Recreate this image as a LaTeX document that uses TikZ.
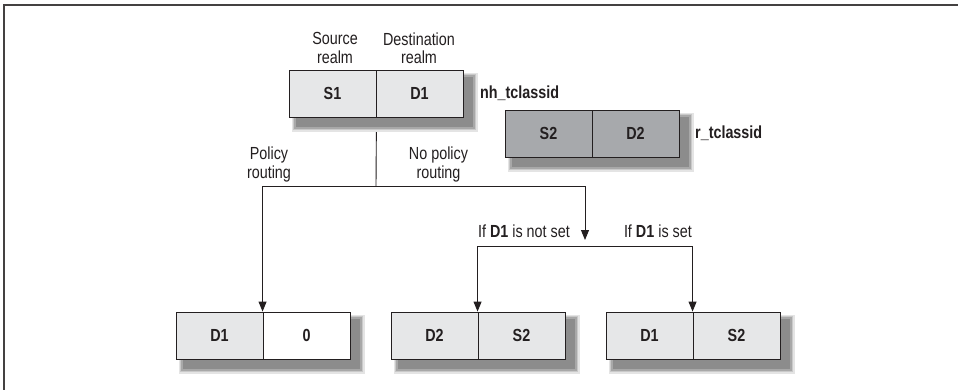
\documentclass[tikz,border=0pt]{standalone}
\usepackage{fontspec}
\setmainfont{Liberation Sans}[FakeStretch=0.82]
\usetikzlibrary{calc,arrows.meta}
\definecolor{ink}{HTML}{231F20}
\definecolor{lightcell}{HTML}{E6E7E8}
\definecolor{darkcell}{HTML}{A7A9AC}
\definecolor{shA}{HTML}{E4E4E4}
\definecolor{shB}{HTML}{C9C9C9}
\definecolor{shC}{HTML}{A8A8A8}
\definecolor{shD}{HTML}{8C8C8C}
\pgfdeclarelayer{bglayer}
\pgfdeclarelayer{shlayer}
\pgfsetlayers{bglayer,shlayer,main}
\newcommand\mkshadow[2]{%
  \fill[shA] ($(#1)+(3,3)$) rectangle ($(#2)+(14.5,14.5)$);
  \fill[shB] ($(#1)+(4.5,4.5)$) rectangle ($(#2)+(13,13)$);
  \fill[shC] ($(#1)+(5.5,5.5)$) rectangle ($(#2)+(11.5,11.5)$);
  \fill[shD] ($(#1)+(7,7)$) rectangle ($(#2)+(9.5,9.5)$);
}
\tikzset{
  cell/.style={draw=ink, line width=0.9pt, rectangle, minimum width=87pt, minimum height=47pt,
    inner sep=0pt, text=ink, font=\fontsize{17.5}{19}\selectfont\bfseries},
  lightc/.style={cell, fill=lightcell},
  darkc/.style={cell, fill=darkcell},
  whitec/.style={cell, fill=white},
  lbl/.style={text=ink, font=\fontsize{17.5}{18.5}\selectfont, align=center, inner sep=0pt},
  tag/.style={text=ink, font=\fontsize{17.5}{18.5}\selectfont\bfseries, inner sep=0pt, anchor=west},
  conn/.style={draw=ink, line width=0.9pt},
  arr/.style={conn, -{Triangle[length=10pt,width=8pt]}},
}
\begin{document}
\begin{tikzpicture}[x=1pt,y=-1pt]
\useasboundingbox (0,0) rectangle (958,390);
\begin{pgfonlayer}{bglayer}
  \fill[white] (0,0) rectangle (958,390);
\end{pgfonlayer}
\draw[draw=ink!85, line width=1.3pt] (4,390) -- (4,5) -- (958,5);

% top box
\node[lightc] (ts) at (332.5,93.5) {S1};
\node[lightc] (td) at (419.5,93.5) {D1};
% second box
\node[darkc] (rs) at (548.5,133.5) {S2};
\node[darkc] (rd) at (635.5,133.5) {D2};
% bottom boxes
\node[lightc] (al) at (219.5,335.5) {D1};
\node[whitec] (ar) at (306.5,335.5) {0};
\node[lightc] (bl) at (434.5,335.5) {D2};
\node[lightc] (br) at (521.5,335.5) {S2};
\node[lightc] (cl) at (649.5,335.5) {D1};
\node[lightc] (cr) at (736.5,335.5) {S2};

\begin{pgfonlayer}{shlayer}
  \mkshadow{ts.north west}{td.south east}
  \mkshadow{rs.north west}{rd.south east}
  \mkshadow{al.north west}{ar.south east}
  \mkshadow{bl.north west}{br.south east}
  \mkshadow{cl.north west}{cr.south east}
\end{pgfonlayer}

% labels
\node[lbl] (srcl) at (335,48) {Source\\realm};
\node[lbl] (dstl) at (419,48) {Destination\\realm};
\node[tag] (nh) at (480,93.5) {nh\_tclassid};
\node[tag] (rt) at (695,133.5) {r\_tclassid};
\node[lbl] (pol) at (269,164.5) {Policy\\routing};
\node[lbl] (npol) at (438.5,164.5) {No policy\\routing};
\node[lbl, anchor=base east] (ifn) at (570,237) {If \textbf{D1} is not set};
\node[lbl, anchor=base east] (ifs) at (692,237) {If \textbf{D1} is set};

% connectors
\coordinate (j1) at (376,186);
\coordinate (jr) at (585,240);
\coordinate (k) at (585,246);
\begin{pgfonlayer}{bglayer}
  \draw[conn] (ts.south east) -- (j1);
\end{pgfonlayer}
\draw[arr] (j1) -| (ar.north west);
\draw[arr] (j1) -| (jr);
\draw[arr] (k) -| (br.north west);
\draw[arr] (k) -| (cr.north west);
\end{tikzpicture}
\end{document}
